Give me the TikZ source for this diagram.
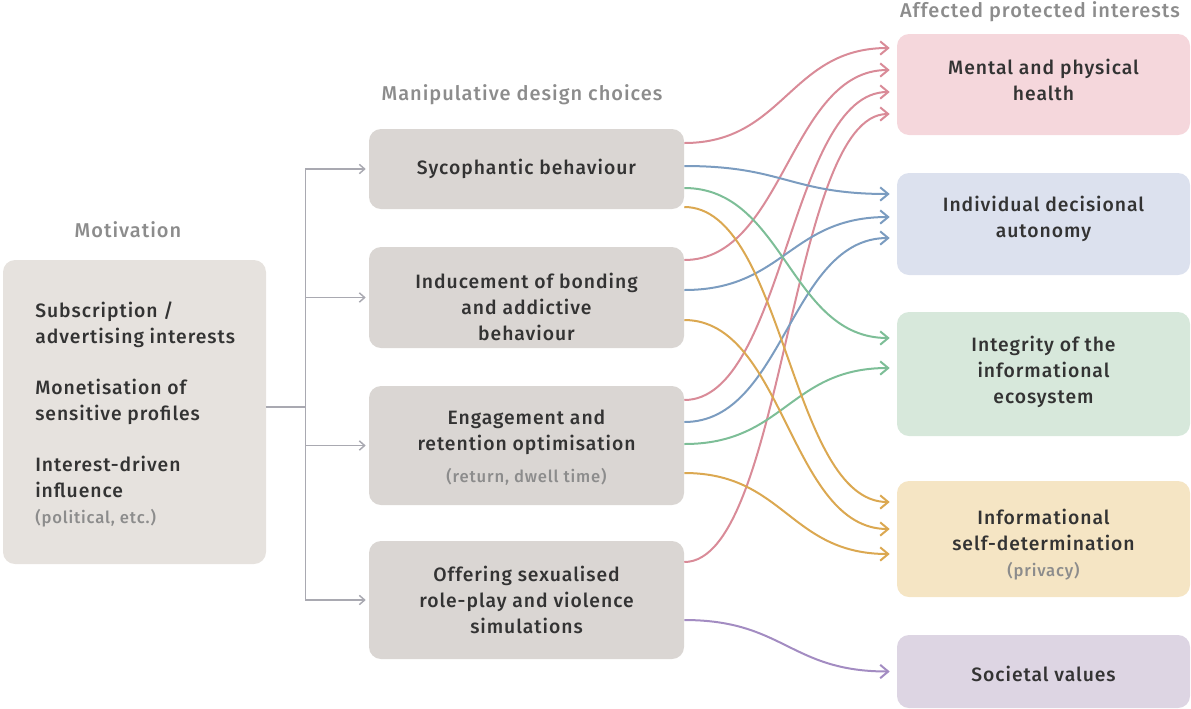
\documentclass[tikz,border=0pt]{standalone}
\usepackage{fontspec}
\IfFontExistsTF{Fira Sans Medium}{\setmainfont{Fira Sans Medium}[LetterSpace=5]}{\setmainfont{Fira Sans}[LetterSpace=5]}
\usetikzlibrary{arrows.meta}
\definecolor{inkdark}{HTML}{333333}
\definecolor{titlegray}{HTML}{8C8C8C}
\definecolor{treegray}{HTML}{A9A9B1}
\definecolor{motivfill}{HTML}{E6E2DE}
\definecolor{choicefill}{HTML}{DAD6D3}
\definecolor{healthfill}{HTML}{F5D7DC}
\definecolor{autonomyfill}{HTML}{DCE1EE}
\definecolor{ecofill}{HTML}{D7E8DB}
\definecolor{privacyfill}{HTML}{F5E5C4}
\definecolor{valuesfill}{HTML}{DDD5E3}
\definecolor{healthline}{HTML}{D98B98}
\definecolor{autonomyline}{HTML}{7B9CC0}
\definecolor{ecoline}{HTML}{7DBE97}
\definecolor{privacyline}{HTML}{DBA851}
\definecolor{valuesline}{HTML}{A38CC2}
\newcommand{\aside}[1]{{\fontsize{12.5}{15}\selectfont\color{titlegray}#1}}

\begin{document}
\begin{tikzpicture}[x=0.75pt,y=-0.75pt,
  box/.style={rounded corners=9pt, inner sep=0pt},
  choice/.style={box, fill=choicefill, minimum width=236.25pt},
  harm/.style={box, minimum width=219.75pt},
  boxtext/.style={inner sep=0pt, align=center, text=inkdark, font=\fontsize{14.5}{19.5}\selectfont},
  heading/.style={text=titlegray, font=\fontsize{15}{18}\selectfont},
  tree/.style={treegray, line width=1.1pt},
  feed/.style={line width=1.5pt, -{Straight Barb[length=6pt,width=10pt]}}]
\useasboundingbox (0,0) rectangle (1191,708);

\node[heading] (motivtitle) at (128,230) {Motivation};
\node[heading] (choicetitle) at (522,95) {Manipulative design choices};
\node[heading] (harmtitle) at (1040,12) {Affected protected interests};

\node[box, fill=motivfill, minimum width=197.25pt, minimum height=228pt] (motiv) at (134.5,412) {};
\node[boxtext, align=left, anchor=west] (motiv-label) at (35,414.5)
  {Subscription /\\ advertising interests\\[19pt] Monetisation of\\ sensitive profiles\\[19pt]
   Interest-driven\\ influence\\ \aside{(political, etc.)}};

\node[choice, minimum height=60pt] (syco) at (526.5,169) {};
\node[choice, minimum height=75.75pt] (bond) at (526.5,297.5) {};
\node[choice, minimum height=89.25pt] (engage) at (526.5,445.5) {};
\node[choice, minimum height=88.5pt] (roleplay) at (526.5,600) {};
\node[boxtext] (syco-label) at (syco) {Sycophantic behaviour};
\node[boxtext] (bond-label) at ([shift={(0,9.5)}]bond.center) {Inducement of bonding\\ and addictive\\ behaviour};
\node[boxtext] (engage-label) at ([shift={(0,2)}]engage.center) {Engagement and\\ retention optimisation\\[4pt] \aside{(return, dwell time)}};
\node[boxtext] (roleplay-label) at (roleplay) {Offering sexualised\\ role-play and violence\\ simulations};

\node[harm, fill=healthfill, minimum height=75.75pt] (health) at (1043.5,84.5) {};
\node[harm, fill=autonomyfill, minimum height=76.5pt] (autonomy) at (1043.5,224) {};
\node[harm, fill=ecofill, minimum height=93pt] (eco) at (1043.5,374) {};
\node[harm, fill=privacyfill, minimum height=87pt] (privacy) at (1043.5,539) {};
\node[harm, fill=valuesfill, minimum height=54.75pt] (values) at (1043.5,671.5) {};
\node[boxtext] (health-label) at ([shift={(0,-4.5)}]health.center) {Mental and physical\\ health};
\node[boxtext] (autonomy-label) at ([shift={(0,-5)}]autonomy.center) {Individual decisional\\ autonomy};
\node[boxtext] (eco-label) at ([shift={(0,-2)}]eco.center) {Integrity of the\\ informational\\ ecosystem};
\node[boxtext] (privacy-label) at ([shift={(0,6)}]privacy.center) {Informational\\ self-determination\\ \aside{(privacy)}};
\node[boxtext] (values-label) at ([shift={(0,2.5)}]values.center) {Societal values};

\draw[tree] ([shift={(0,-5)}]motiv.east) -- ++(39,0) coordinate (split);
\foreach \target in {syco,bond,engage,roleplay}
  \draw[tree, -{Straight Barb[length=4pt,width=7pt]}] (split) |- ([xshift=-2.25pt]\target.west);

\draw[feed, healthline] ([shift={(0,-26)}]syco.east) .. controls +(100,0) and +(-100,0) .. ([shift={(-7,-36.5)}]health.west);
\draw[feed, healthline] ([shift={(0,-37.5)}]bond.east) .. controls +(100,0) and +(-100,0) .. ([shift={(-7,-14.5)}]health.west);
\draw[feed, healthline] ([shift={(0,-45.5)}]engage.east) .. controls +(100,0) and +(-100,0) .. ([shift={(-7,7.5)}]health.west);
\draw[feed, healthline] ([shift={(0,-38)}]roleplay.east) .. controls +(100,0) and +(-100,0) .. ([shift={(-7,29.5)}]health.west);

\draw[feed, autonomyline] ([shift={(0,-3)}]syco.east) .. controls +(100,0) and +(-100,0) .. ([shift={(-7,-30)}]autonomy.west);
\draw[feed, autonomyline] ([shift={(0,-7.5)}]bond.east) .. controls +(100,0) and +(-100,0) .. ([shift={(-7,-7)}]autonomy.west);
\draw[feed, autonomyline] ([shift={(0,-23.5)}]engage.east) .. controls +(100,0) and +(-100,0) .. ([shift={(-7,14)}]autonomy.west);

\draw[feed, ecoline] ([shift={(0,19)}]syco.east) .. controls +(100,0) and +(-100,0) .. ([shift={(-7,-36)}]eco.west);
\draw[feed, ecoline] ([shift={(0,-1.5)}]engage.east) .. controls +(100,0) and +(-100,0) .. ([shift={(-7,-6)}]eco.west);

\draw[feed, privacyline] ([shift={(0,38)}]syco.east) .. controls +(100,0) and +(-100,0) .. ([shift={(-7,-37)}]privacy.west);
\draw[feed, privacyline] ([shift={(0,22.5)}]bond.east) .. controls +(100,0) and +(-100,0) .. ([shift={(-7,-10)}]privacy.west);
\draw[feed, privacyline] ([shift={(0,27.5)}]engage.east) .. controls +(100,0) and +(-100,0) .. ([shift={(-7,15)}]privacy.west);

\draw[feed, valuesline] ([shift={(0,20)}]roleplay.east) .. controls +(100,0) and +(-100,0) .. ([shift={(-7,0)}]values.west);
\end{tikzpicture}
\end{document}
